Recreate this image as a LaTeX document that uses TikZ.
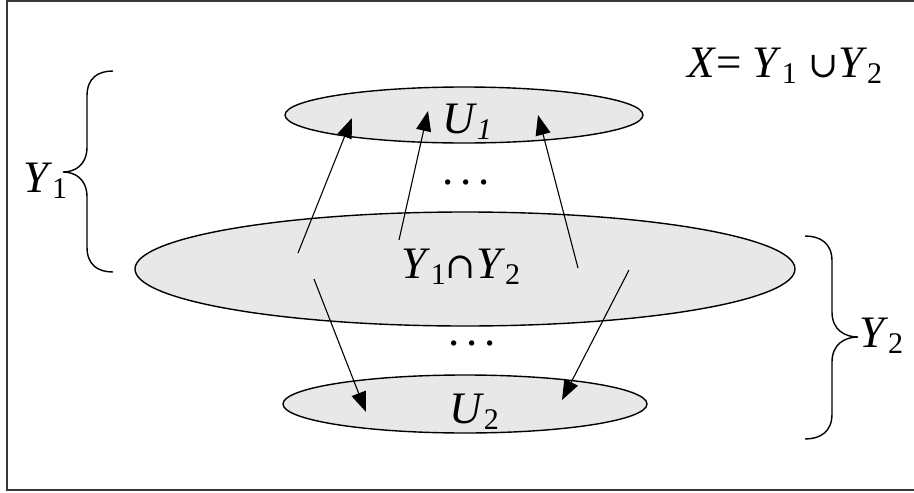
\documentclass[tikz,border=0pt]{standalone}
\usepackage{fontspec}
\setmainfont{Liberation Serif}
\newfontfamily\timesfam{Liberation Serif}
\newfontfamily\opsymfam{DejaVu Serif}
\usetikzlibrary{arrows.meta,shapes.geometric}
\definecolor{setgray}{HTML}{E8E8E8}
\definecolor{framegray}{HTML}{383838}
\newcommand\lowsub[1]{\raisebox{-6pt}{\fontsize{30}{30}\selectfont #1}}
\newcommand\opsym[1]{{\opsymfam\fontsize{36}{36}\selectfont #1}}
\begin{document}
\begin{tikzpicture}[x=1pt,y=-1pt,
  setshape/.style={ellipse, draw=black, fill=setgray, line width=1.4pt, inner sep=0pt},
  lbl/.style={inner sep=0pt, anchor=base, font=\timesfam\fontsize{45}{50}\selectfont},
  arr/.style={line width=1.1pt, -{Triangle[length=20pt,width=15pt]}},
  brace/.style={line width=1.4pt},
  frame/.style={draw=framegray, line width=2pt}]
\useasboundingbox (0,0) rectangle (914,493);
\draw[frame] (7,1) rectangle (930,490);
% sets
\node[setshape, minimum width=358pt, minimum height=56pt] (u1) at (464,115) {};
\node[setshape, minimum width=660pt, minimum height=114pt] (mid) at (465,269) {};
\node[setshape, minimum width=364pt, minimum height=58pt] (u2) at (465,404) {};
% labels
\node[lbl] (u1t) at (467,133) {\textit{U}\lowsub{\textit{1}}};
\node[lbl] (u2t) at (474,423) {\textit{U}\lowsub{2}};
\node[lbl] (midt) at (461,278) {\textit{Y}\lowsub{1}\opsym{∩}\textit{Y}\lowsub{2}};
\node[lbl] (dots1) at (466,184.5) {.\kern7pt.\kern7pt.};
\node[lbl] (dots2) at (472,345.5) {.\kern7pt.\kern7pt.};
\node[lbl, anchor=base west] (y1t) at (23,192) {\textit{Y}\lowsub{1}};
\node[lbl, anchor=base west] (y2t) at (859,347) {\textit{Y}\lowsub{2}};
\node[lbl, anchor=base west] (xt) at (687,77) {\textit{X}=\ \textit{Y}\lowsub{1}\ \opsym{∪}\textit{Y}\lowsub{2}};
% arrow end points
\coordinate (a1s) at (298,253); \coordinate (a1e) at (352,118);
\coordinate (a2s) at (399,240); \coordinate (a2e) at (428,111);
\coordinate (a3s) at (578,268); \coordinate (a3e) at (538,115);
\coordinate (a4s) at (314,279); \coordinate (a4e) at (366,412);
\coordinate (a5s) at (629,270); \coordinate (a5e) at (562,400);
\draw[arr] (a1s) -- (a1e);
\draw[arr] (a2s) -- (a2e);
\draw[arr] (a3s) -- (a3e);
\draw[arr] (a4s) -- (a4e);
\draw[arr] (a5s) -- (a5e);
% braces
\draw[brace] (113,71) .. controls (98,71) and (87,78) .. (87,96) -- (87,147)
  .. controls (87,165) and (75,172) .. (63,172)
  .. controls (75,172) and (87,179) .. (87,197) -- (87,247)
  .. controls (87,265) and (98,272) .. (113,272);
\draw[brace] (805,236) .. controls (820,236) and (832,243) .. (832,261) -- (832,312)
  .. controls (832,330) and (845,337) .. (858,337)
  .. controls (845,337) and (832,344) .. (832,362) -- (832,414)
  .. controls (832,432) and (820,439) .. (805,439);
\end{tikzpicture}
\end{document}
